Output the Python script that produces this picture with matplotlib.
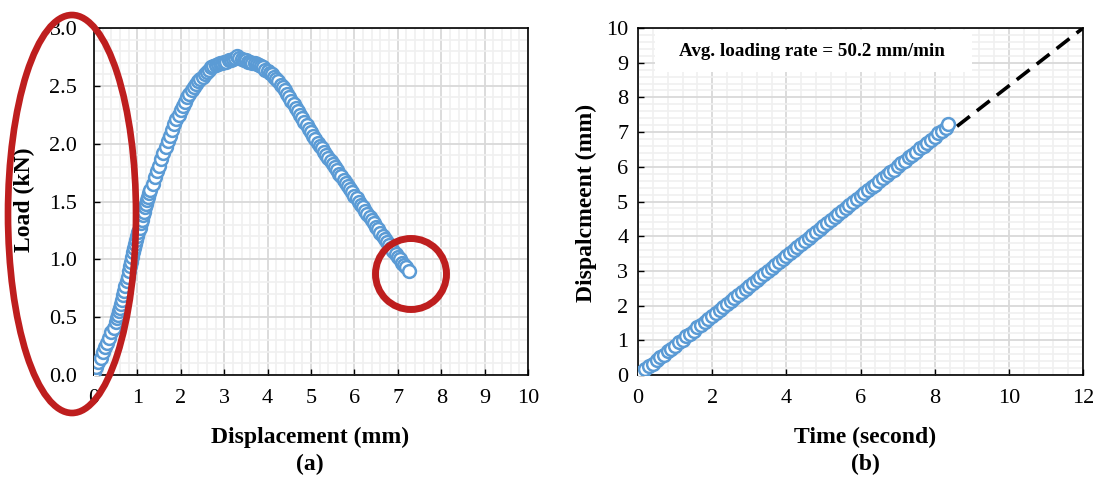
import matplotlib
matplotlib.use("Agg")
import matplotlib.pyplot as plt
from matplotlib.patches import Ellipse, Rectangle
from matplotlib.ticker import MultipleLocator, AutoMinorLocator

plt.rcParams['font.family'] = ['Liberation Serif', 'DejaVu Serif']

# (a) load vs displacement
disp_a = [0.00, 0.05, 0.10, 0.15, 0.20, 0.25, 0.30, 0.35, 0.40, 0.45, 0.50,
          0.525, 0.55, 0.575, 0.60, 0.625, 0.65, 0.675, 0.70, 0.725, 0.75,
          0.775, 0.80, 0.825, 0.85, 0.875, 0.90, 0.925, 0.95, 0.975, 1.00,
          1.025, 1.05, 1.075, 1.10, 1.125, 1.15, 1.175, 1.20, 1.225, 1.25,
          1.275, 1.30,
          1.35, 1.40, 1.45, 1.50, 1.55, 1.60, 1.65, 1.70, 1.75, 1.80, 1.85,
          1.90, 1.95, 2.00, 2.05, 2.10, 2.15, 2.20, 2.25, 2.30, 2.35, 2.40,
          2.45, 2.50, 2.55, 2.60, 2.65, 2.70, 2.75, 2.80, 2.85, 2.90, 2.95,
          3.00, 3.05, 3.10, 3.15, 3.20, 3.25, 3.30, 3.35, 3.40, 3.45, 3.50,
          3.55, 3.60, 3.65, 3.70, 3.75, 3.80, 3.85, 3.90, 3.95, 4.00, 4.05,
          4.10, 4.15, 4.20, 4.25, 4.30, 4.35, 4.40, 4.45, 4.50, 4.55, 4.60,
          4.65, 4.70, 4.75, 4.80, 4.85, 4.90, 4.95, 5.00, 5.05, 5.10, 5.15,
          5.20, 5.25, 5.30, 5.35, 5.40, 5.45, 5.50, 5.55, 5.60, 5.65, 5.70,
          5.75, 5.80, 5.85, 5.90, 5.95, 6.00, 6.05, 6.10, 6.15, 6.20, 6.25,
          6.30, 6.35, 6.40, 6.45, 6.50, 6.55, 6.60, 6.65, 6.70, 6.75, 6.80,
          6.85, 6.90, 6.95, 7.00, 7.05, 7.10, 7.15, 7.20, 7.26]
load_a = [0.03, 0.07, 0.11, 0.15, 0.20, 0.24, 0.28, 0.32, 0.37, 0.41, 0.46,
          0.49, 0.52, 0.55, 0.58, 0.61, 0.65, 0.69, 0.73, 0.77, 0.81,
          0.85, 0.90, 0.94, 0.98, 1.02, 1.06, 1.10, 1.13, 1.17, 1.20,
          1.24, 1.27, 1.31, 1.34, 1.38, 1.41, 1.45, 1.48, 1.51, 1.54,
          1.57, 1.60,
          1.65, 1.71, 1.76, 1.81, 1.87, 1.92, 1.97, 2.02, 2.07, 2.12, 2.17,
          2.21, 2.25, 2.29, 2.33, 2.36, 2.40, 2.43, 2.46, 2.49, 2.52, 2.54,
          2.56, 2.58, 2.60, 2.62, 2.64, 2.66, 2.67, 2.68, 2.69, 2.70, 2.70,
          2.71, 2.71, 2.72, 2.72, 2.73, 2.74, 2.76, 2.74, 2.73, 2.72, 2.72,
          2.71, 2.71, 2.70, 2.70, 2.69, 2.68, 2.67, 2.66, 2.64, 2.63, 2.61,
          2.60, 2.58, 2.56, 2.54, 2.51, 2.49, 2.46, 2.43, 2.40, 2.37, 2.34,
          2.31, 2.28, 2.25, 2.22, 2.19, 2.16, 2.13, 2.10, 2.07, 2.04, 2.01,
          1.98, 1.96, 1.93, 1.90, 1.88, 1.85, 1.82, 1.80, 1.77, 1.74, 1.72,
          1.69, 1.66, 1.63, 1.61, 1.58, 1.55, 1.53, 1.50, 1.47, 1.45, 1.42,
          1.39, 1.37, 1.34, 1.31, 1.28, 1.26, 1.23, 1.20, 1.18, 1.15, 1.12,
          1.10, 1.07, 1.05, 1.02, 1.00, 0.97, 0.95, 0.93, 0.90]

# (b) displacement vs time
time_b = [0.0, 0.1, 0.2, 0.3, 0.4, 0.5, 0.6, 0.7, 0.8, 0.9, 1.0, 1.1, 1.2,
          1.3, 1.4, 1.5, 1.6, 1.7, 1.8, 1.9, 2.0, 2.1, 2.2, 2.3, 2.4, 2.5,
          2.6, 2.7, 2.8, 2.9, 3.0, 3.1, 3.2, 3.3, 3.4, 3.5, 3.6, 3.7, 3.8,
          3.9, 4.0, 4.1, 4.2, 4.3, 4.4, 4.5, 4.6, 4.7, 4.8, 4.9, 5.0, 5.1,
          5.2, 5.3, 5.4, 5.5, 5.6, 5.7, 5.8, 5.9, 6.0, 6.1, 6.2, 6.3, 6.4,
          6.5, 6.6, 6.7, 6.8, 6.9, 7.0, 7.1, 7.2, 7.3, 7.4, 7.5, 7.6, 7.7,
          7.8, 7.9, 8.0, 8.1, 8.2, 8.3, 8.36]
disp_b = [0.02, 0.08, 0.16, 0.25, 0.33, 0.42, 0.51, 0.59, 0.68, 0.76, 0.85,
          0.94, 1.02, 1.11, 1.19, 1.28, 1.37, 1.45, 1.54, 1.62, 1.71, 1.80,
          1.88, 1.97, 2.05, 2.14, 2.23, 2.31, 2.40, 2.48, 2.57, 2.66, 2.74,
          2.83, 2.91, 3.00, 3.09, 3.17, 3.26, 3.34, 3.43, 3.52, 3.60, 3.69,
          3.77, 3.86, 3.95, 4.03, 4.12, 4.20, 4.29, 4.38, 4.46, 4.55, 4.63,
          4.72, 4.81, 4.89, 4.98, 5.06, 5.15, 5.24, 5.32, 5.41, 5.49, 5.58,
          5.67, 5.75, 5.84, 5.92, 6.01, 6.10, 6.18, 6.27, 6.35, 6.44, 6.53,
          6.61, 6.70, 6.78, 6.87, 6.96, 7.04, 7.13, 7.22]

# average loading-rate line
rate_t = [0, 12]
rate_d = [0, 10]
rate_text = "Avg. loading rate = 50.2 mm/min"

blue = '#5B9BD5'
red = '#BE1E1E'

fig = plt.figure(figsize=(10.97, 4.83), dpi=100)
ax1 = fig.add_axes([0.0857, 0.2236, 0.3956, 0.7184])
ax2 = fig.add_axes([0.5816, 0.2236, 0.4057, 0.7184])


def style_axes(ax):
    ax.set_axisbelow(True)
    ax.grid(which='major', color='#d9d9d9', lw=1.3)
    ax.grid(which='minor', color='#f0f0f0', lw=1.2)
    ax.xaxis.set_minor_locator(AutoMinorLocator(5))
    ax.yaxis.set_minor_locator(AutoMinorLocator(5))
    ax.tick_params(which='major', direction='in', length=4, width=1,
                   labelsize=16, colors='black')
    ax.tick_params(which='minor', length=0)
    for sp in ax.spines.values():
        sp.set_color('black')
        sp.set_linewidth(1.2)


# ---- (a)
ax1.scatter(disp_a, load_a, s=85, facecolors='white', edgecolors=blue,
            linewidths=1.8, zorder=3)
ax1.set_xlim(0, 10)
ax1.set_ylim(0, 3)
ax1.xaxis.set_major_locator(MultipleLocator(1))
ax1.yaxis.set_major_locator(MultipleLocator(0.5))
ax1.yaxis.set_major_formatter(lambda v, p: f"{v:.1f}")
style_axes(ax1)
ax1.tick_params(axis='x', pad=10)
ax1.tick_params(axis='y', pad=12)
ax1.set_xlabel("Displacement (mm)", fontsize=17, fontweight='bold')
ax1.set_ylabel("Load (kN)", fontsize=17, fontweight='bold')
ax1.xaxis.set_label_coords(0.498, -0.18)
ax1.xaxis.label.set_va('center')
ax1.yaxis.set_label_coords(-0.16, 0.504)
ax1.yaxis.label.set_va('center')
ax1.text(0.498, -0.259, "(a)", transform=ax1.transAxes, ha='center',
         va='center', fontsize=17, fontweight='bold')

# ---- (b)
ax2.plot(rate_t, rate_d, color='black', lw=2.6, dashes=(4.5, 2.5), zorder=2)
ax2.scatter(time_b, disp_b, s=85, facecolors='white', edgecolors=blue,
            linewidths=1.8, zorder=3)
ax2.set_xlim(0, 12)
ax2.set_ylim(0, 10)
ax2.xaxis.set_major_locator(MultipleLocator(2))
ax2.yaxis.set_major_locator(MultipleLocator(1))
style_axes(ax2)
ax2.tick_params(axis='x', pad=10)
ax2.tick_params(axis='y', pad=7)
ax2.set_xlabel("Time (second)", fontsize=17, fontweight='bold')
ax2.set_ylabel("Dispalcmeent (mm)", fontsize=17, fontweight='bold')
ax2.xaxis.set_label_coords(0.51, -0.179)
ax2.xaxis.label.set_va('center')
ax2.yaxis.set_label_coords(-0.117, 0.496)
ax2.yaxis.label.set_va('center')
ax2.add_patch(Rectangle((0.038, 0.873), 0.713, 0.121, transform=ax2.transAxes,
                        facecolor='white', edgecolor='none', zorder=2.5))
ax2.text(0.391, 0.931, rate_text, transform=ax2.transAxes, ha='center',
         va='center', fontsize=13.7, fontweight='bold', zorder=4)
ax2.text(0.51, -0.259, "(b)", transform=ax2.transAxes, ha='center',
         va='center', fontsize=17, fontweight='bold')

# red highlight marks drawn over panel (a)
W, H = 1097, 483
fig.add_artist(Ellipse((72 / W, 1 - 214 / H), 128 / W, 398 / H,
                       transform=fig.transFigure, fill=False,
                       edgecolor=red, lw=4.8, zorder=10))
fig.add_artist(Ellipse((411 / W, 1 - 274 / H), 71 / W, 71 / H,
                       transform=fig.transFigure, fill=False,
                       edgecolor=red, lw=5, zorder=10))

fig.savefig("out.png", dpi=100)
